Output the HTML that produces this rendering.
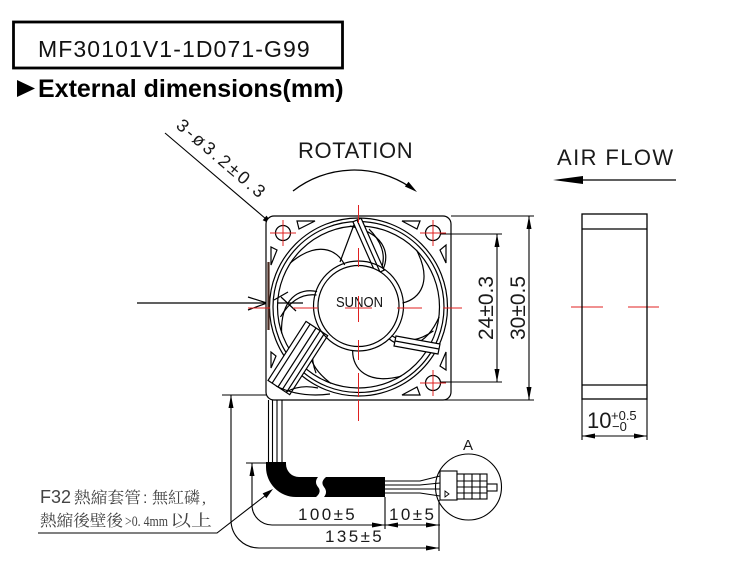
<!DOCTYPE html>
<html><head><meta charset="utf-8"><style>
html,body{margin:0;padding:0;background:#fff;}
svg{display:block;}
.cad{font-family:"Liberation Sans",sans-serif;fill:#1a1a1a;}
</style></head><body>
<svg width="750" height="587" viewBox="0 0 750 587" xmlns="http://www.w3.org/2000/svg">
<rect width="750" height="587" fill="#fff"/>
<!-- Title -->
<rect x="13.5" y="22" width="329" height="46" fill="none" stroke="#000" stroke-width="2.8"/>
<text x="38" y="57" font-family="Liberation Sans, sans-serif" font-size="23" letter-spacing="1.1" fill="#111">MF30101V1-1D071-G99</text>
<polygon points="17,80 35,88.5 17,97" fill="#000"/>
<text x="38" y="97" font-family="Liberation Sans, sans-serif" font-weight="bold" font-size="25" fill="#000">External dimensions(mm)</text>

<!-- Rotation -->
<text x="298" y="158" class="cad" font-size="22" letter-spacing="0.6">ROTATION</text>
<path d="M293,191 A100,100 0 0 1 410,187" fill="none" stroke="#000" stroke-width="1.3"/>
<polygon points="417,192 404.9,186.5 408.5,181.7" fill="#000"/>

<!-- Air flow -->
<text x="557" y="165" class="cad" font-size="22" letter-spacing="1.4">AIR FLOW</text>
<line x1="575" y1="180" x2="676" y2="180" stroke="#000" stroke-width="1.3"/>
<polygon points="553,180 583,176 583,184" fill="#000"/>

<!-- Hole leader -->
<line x1="165" y1="133" x2="266" y2="219" stroke="#000" stroke-width="1.1"/>
<polygon points="273,225 262.7,220.2 266.5,215.6" fill="#000"/>
<text class="cad" font-size="18" letter-spacing="2.6" transform="translate(175,127) rotate(40.5)">3-ø3.2±0.3</text>

<!-- Left arrow -->
<line x1="137" y1="303" x2="266" y2="303" stroke="#000" stroke-width="1.2"/>
<polyline points="248,297 267,303 248,310" fill="none" stroke="#000" stroke-width="1.2"/>

<!-- FAN -->
<g stroke="#000" stroke-width="1.2" fill="none">
  <rect x="266" y="216" width="185" height="184" rx="8" fill="#fff"/>
  <circle cx="358.5" cy="307" r="89"/>
  <circle cx="358.5" cy="307" r="85.5"/>
  <circle cx="358.5" cy="307" r="81"/>
  <!-- corner triangles -->
  <polygon points="297,221 315,221 299,229"/>
  <polygon points="271,247 271,265 277,250"/>
  <polygon points="402,221 420,221 417,229"/>
  <polygon points="446,245 446,263 440,250"/>
  <polygon points="446,352 446,370 440,366"/>
  <polygon points="402,395 420,395 417,387"/>
  <polygon points="271,352 271,368 276,356"/>
  <!-- holes -->
  <circle cx="283" cy="233" r="7.5" fill="#fff"/>
  <circle cx="433" cy="233" r="7.5" fill="#fff"/>
  <circle cx="433" cy="383" r="7.5" fill="#fff"/>
  <!-- blades -->
  <g transform="translate(358.5,307)">
    <path d="M44,-4 C62,-8 74,-26 58,-57"/>
    <path d="M44,-4 C62,-8 74,-26 58,-57" transform="rotate(51.4)"/>
    <path d="M44,-4 C62,-8 74,-26 58,-57" transform="rotate(102.8)"/>
    <path d="M44,-4 C62,-8 74,-26 58,-57" transform="rotate(154.2)"/>
    <path d="M44,-4 C62,-8 74,-26 58,-57" transform="rotate(205.6)"/>
    <path d="M44,-4 C62,-8 74,-26 58,-57" transform="rotate(257)"/>
    <path d="M44,-4 C62,-8 74,-26 58,-57" transform="rotate(308.4)"/>
    <path d="M42,12 C58,14 70,4 78,-10" transform="rotate(25)"/>
    <path d="M42,12 C58,14 70,4 78,-10" transform="rotate(130)"/>
    <path d="M42,12 C58,14 70,4 78,-10" transform="rotate(180)"/>
    <path d="M42,12 C58,14 70,4 78,-10" transform="rotate(285)"/>
  </g>
  <!-- top strut -->
  <line x1="355" y1="222" x2="340" y2="262"/>
  <polygon points="352.9,221.8 361.1,218.2 384.1,270.2 375.9,273.8" fill="#fff"/>
  <line x1="357" y1="220" x2="380" y2="272"/>
  <!-- right-lower strut -->
  <polygon points="396,336 440,344 438,354 394,346" fill="#fff"/>
  <line x1="395" y1="341" x2="439" y2="349"/>
  <!-- cable channel -->
  <polygon points="306,321.4 327.7,335.7 289.7,394.7 268,380.4" fill="#fff"/>
  <line x1="310.1" y1="324.2" x2="272.1" y2="383.2"/>
  <line x1="316" y1="328" x2="278" y2="387"/>
  <line x1="320.2" y1="330.7" x2="282.2" y2="389.7"/>
  <line x1="324.4" y1="333.5" x2="286.4" y2="392.5"/>
  <path d="M276,386 Q300,398 330,394"/>
  <path d="M286,392 Q300,384 318,388"/>
  <!-- hub -->
  <circle cx="358.5" cy="306" r="45"/>
  <circle cx="358.5" cy="306" r="40.5" fill="#fff"/>
  <!-- small lines near left -->
  <line x1="274" y1="300" x2="288" y2="292"/>
  <line x1="277" y1="303" x2="303" y2="303"/>
  <line x1="281" y1="297" x2="296" y2="311"/>
</g>
<line x1="268.5" y1="262" x2="268.5" y2="330" stroke="#4a2a20" stroke-width="2.2"/>
<text x="336" y="307" font-family="Liberation Sans, sans-serif" font-size="15" textLength="47" lengthAdjust="spacingAndGlyphs" fill="#111">SUNON</text>

<!-- red centre marks -->
<g stroke="#e02020" stroke-width="1">
  <line x1="270" y1="233" x2="296" y2="233"/><line x1="283" y1="220" x2="283" y2="246"/>
  <line x1="420" y1="233" x2="446" y2="233"/><line x1="433" y1="220" x2="433" y2="246"/>
  <line x1="420" y1="383" x2="446" y2="383"/><line x1="433" y1="370" x2="433" y2="396"/>
  <line x1="248" y1="308" x2="270" y2="308"/>
  <line x1="293" y1="308" x2="318" y2="308"/>
  <line x1="345" y1="308" x2="372" y2="308"/>
  <line x1="397" y1="308" x2="422" y2="308"/>
  <line x1="443" y1="308" x2="462" y2="308"/>
  <line x1="358.5" y1="205" x2="358.5" y2="223"/>
  <line x1="358.5" y1="248" x2="358.5" y2="267"/>
  <line x1="358.5" y1="296" x2="358.5" y2="322"/>
  <line x1="358.5" y1="340" x2="358.5" y2="360"/>
  <line x1="358.5" y1="373" x2="358.5" y2="397"/>
  <line x1="358.5" y1="400" x2="358.5" y2="421"/>
  <line x1="571" y1="307" x2="603" y2="307"/>
  <line x1="628" y1="307" x2="659" y2="307"/>
</g>

<!-- right dimensions -->
<g stroke="#000" stroke-width="1.1">
  <line x1="451" y1="216" x2="534" y2="216"/>
  <line x1="440" y1="234" x2="502" y2="234"/>
  <line x1="440" y1="382" x2="502" y2="382"/>
  <line x1="440" y1="400" x2="534" y2="400"/>
  <line x1="497" y1="234" x2="497" y2="382"/>
  <line x1="529" y1="216" x2="529" y2="400"/>
</g>
<polygon points="497,234 494.5,247 499.5,247" fill="#000"/>
<polygon points="497,382 494.5,369 499.5,369" fill="#000"/>
<polygon points="529,216 526.5,229 531.5,229" fill="#000"/>
<polygon points="529,400 526.5,387 531.5,387" fill="#000"/>
<text class="cad" font-size="21" text-anchor="middle" transform="translate(493,308) rotate(-90)">24±0.3</text>
<text class="cad" font-size="21" text-anchor="middle" transform="translate(525,308) rotate(-90)">30±0.5</text>

<!-- side view -->
<g stroke="#000" stroke-width="1.3" fill="none">
  <rect x="582" y="214" width="65" height="185"/>
  <line x1="582" y1="229" x2="647" y2="229"/>
  <line x1="582" y1="385" x2="647" y2="385"/>
  <line x1="582" y1="399" x2="582" y2="440" stroke-width="1.1"/>
  <line x1="647" y1="399" x2="647" y2="440" stroke-width="1.1"/>
  <line x1="582" y1="436" x2="647" y2="436" stroke-width="1.1"/>
</g>
<polygon points="582,436 595,433.5 595,438.5" fill="#000"/>
<polygon points="647,436 634,433.5 634,438.5" fill="#000"/>
<text x="587" y="428" class="cad" font-size="22">10</text>
<text x="611" y="420" class="cad" font-size="13">+0.5</text>
<text x="612" y="431" class="cad" font-size="13">−0</text>

<!-- cable wires -->
<g stroke="#000" stroke-width="1.1" fill="none">
  <line x1="268.5" y1="400" x2="268.5" y2="463"/>
  <line x1="272.5" y1="400" x2="272.5" y2="463"/>
  <line x1="277" y1="400" x2="277" y2="463"/>
  <line x1="282" y1="400" x2="282" y2="463"/>
  <path d="M385,481 L420,481 L440,476"/>
  <path d="M385,485 L420,485 L440,483"/>
  <path d="M385,489 L420,489 L440,489"/>
  <path d="M385,493 L420,493 L440,496"/>
</g>
<!-- heat shrink tube -->
<path d="M266,462 L286,462 L286,464 A13,13 0 0 0 299,477 L318,477 Q314,482 318,487 Q322,492 316,497 L296,497 A30,30 0 0 1 266,467 Z" fill="#000"/>
<path d="M326,477 L385,477 L385,497 L324,497 Q328,492 324,487 Q320,482 326,477 Z" fill="#000"/>

<!-- connector -->
<g stroke="#000" stroke-width="1.1" fill="#fff">
  <circle cx="468.5" cy="487" r="33" fill="none"/>
  <rect x="440" y="471" width="17" height="29"/>
  <rect x="457" y="474" width="30" height="25"/>
  <rect x="487" y="484" width="10" height="7"/>
  <line x1="457" y1="481" x2="487" y2="481"/>
  <line x1="457" y1="487" x2="487" y2="487"/>
  <line x1="457" y1="493" x2="487" y2="493"/>
  <line x1="464" y1="474" x2="464" y2="499"/>
  <line x1="472" y1="474" x2="472" y2="499"/>
  <line x1="480" y1="474" x2="480" y2="499"/>
</g>
<polygon points="445,491 449,494 445,497" fill="none" stroke="#000" stroke-width="0.9"/>
<text x="468" y="450" class="cad" font-size="15" text-anchor="middle">A</text>

<!-- bottom dimensions -->
<g stroke="#000" stroke-width="1.1" fill="none">
  <line x1="246" y1="463" x2="268" y2="463"/>
  <path d="M252,463 L252,505 A20,20 0 0 0 272,525 L385,525"/>
  <line x1="385" y1="497" x2="385" y2="529"/>
  <line x1="385" y1="525" x2="440" y2="525"/>
  <line x1="439" y1="500" x2="439" y2="551"/>
  <line x1="222" y1="395" x2="266" y2="395"/>
  <path d="M231,395 L231,520 A28,28 0 0 0 259,548 L439,548"/>
  <polyline points="38,533 217,533 266,495"/>
</g>
<polygon points="252,463 249.5,476 254.5,476" fill="#000"/>
<polygon points="385,525 372,522.5 372,527.5" fill="#000"/>
<polygon points="385,525 398,522.5 398,527.5" fill="#000"/>
<polygon points="439,525 426,522.5 426,527.5" fill="#000"/>
<polygon points="231,395 228.5,408 233.5,408" fill="#000"/>
<polygon points="439,548 426,545.5 426,550.5" fill="#000"/>
<polygon points="273,489 266.3,498.2 262.6,493.4" fill="#000"/>
<text x="298" y="520" class="cad" font-size="17" letter-spacing="2.4">100±5</text>
<text x="389" y="520" class="cad" font-size="17" letter-spacing="2.4">10±5</text>
<text x="325" y="542" class="cad" font-size="17" letter-spacing="2.4">135±5</text>

<!-- note -->
<g fill="#444">
  <text x="40" y="503" font-family="Liberation Sans, sans-serif" font-size="18">F32</text>
  <text x="74" y="503" font-family="Liberation Serif, 'Noto Serif CJK SC', serif" font-size="16" textLength="67" lengthAdjust="spacingAndGlyphs">熱縮套管</text>
  <text x="143" y="503" font-family="Liberation Sans, sans-serif" font-size="16">:</text>
  <text x="152" y="503" font-family="Liberation Serif, 'Noto Serif CJK SC', serif" font-size="16" textLength="48" lengthAdjust="spacingAndGlyphs">無紅磷</text>
  <text x="202" y="503" font-family="Liberation Serif, 'Noto Serif CJK SC', serif" font-size="16">,</text>
  <text x="40" y="526" font-family="Liberation Serif, 'Noto Serif CJK SC', serif" font-size="16" textLength="83" lengthAdjust="spacingAndGlyphs">熱縮後壁後</text>
  <text x="125" y="526" font-family="Liberation Serif, 'Noto Serif CJK SC', serif" font-size="15" textLength="43" lengthAdjust="spacingAndGlyphs">&gt;0. 4mm</text>
  <text x="170" y="526" font-family="Liberation Serif, 'Noto Serif CJK SC', serif" font-size="16" textLength="42" lengthAdjust="spacingAndGlyphs">以上</text>
</g>
</svg>
</body></html>
